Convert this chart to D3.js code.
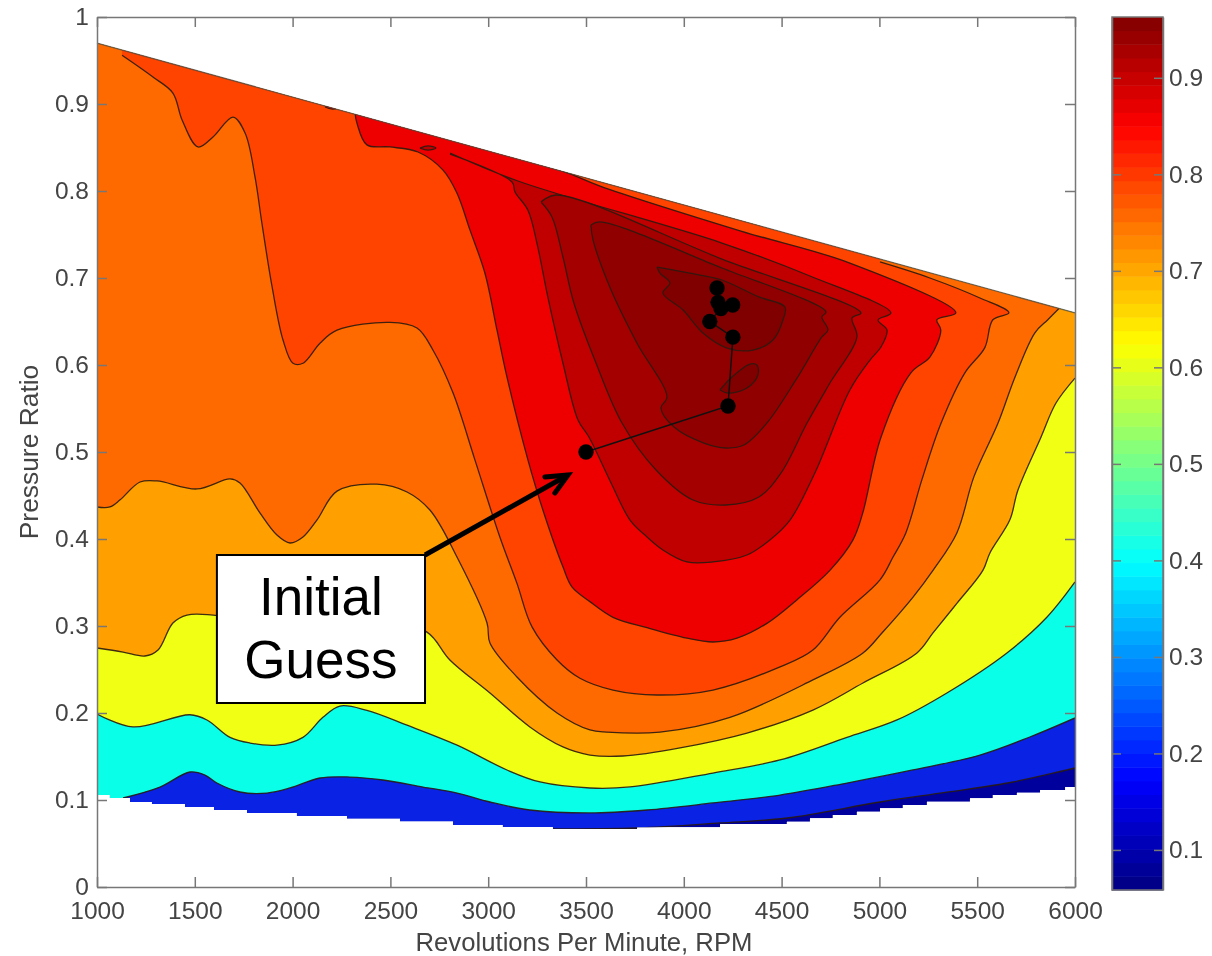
<!DOCTYPE html>
<html>
<head>
<meta charset="utf-8">
<title>Pressure Ratio contour</title>
<script src="https://cdn.jsdelivr.net/npm/d3@7/dist/d3.min.js"></script>
<style>
	html, body { margin: 0; padding: 0; background: #fff; }
	svg { display: block; }
	text { font-family: "Liberation Sans", Arial, sans-serif; }
	.axis text { font-size: 24.5px; fill: #444; }
	.axis path, .axis line { stroke: #777; stroke-width: 1.5px; }
	.soft { filter: blur(0.7px); }
</style>
</head>
<body>
<svg id="chart" width="1212" height="956"></svg>
<script>
// domain of the map: [rpm, pressure ratio]
var topEdge = [[6000, 0.66], [1000, 0.97]];
// the lower edge is a staircase in the source, each entry starts a flat
var bottomEdge = [[1000, 0.1057], [1066, 0.1023], [1169, 0.0977], [1281, 0.0954], [1450, 0.092], [1598, 0.0885],
	[1767, 0.0851], [2022, 0.0816], [2278, 0.0787], [2549, 0.0757], [2820, 0.0713], [3075, 0.069], [3331, 0.0667],
	[3761, 0.0686], [4185, 0.0724], [4527, 0.0751], [4645, 0.079], [4762, 0.0828], [4885, 0.0866], [5003, 0.0904],
	[5120, 0.0943], [5243, 0.098], [5463, 0.102], [5580, 0.1057], [5703, 0.1084], [5821, 0.1115], [5950, 0.1149],
	[6000, 0.1149]];

// contour lines, lowest level first
var contourBlue = [[3331, 0.0667], [3761, 0.0678], [4185, 0.0736], [4527, 0.0793], [5003, 0.0977], [5345, 0.109],
	[5683, 0.1207], [6000, 0.1368]];
var contourCyan = [[1133, 0.1023], [1322, 0.1149], [1475, 0.1322], [1552, 0.1287], [1613, 0.1195], [1731, 0.1092],
	[1869, 0.108], [1987, 0.1138], [2140, 0.1253], [2293, 0.1264], [2462, 0.123], [2667, 0.1149], [2841, 0.108],
	[3009, 0.0977], [3213, 0.0885], [3520, 0.0851], [3812, 0.0885], [4149, 0.0966], [4492, 0.1057], [4834, 0.1195],
	[5171, 0.1345], [5514, 0.1517], [5769, 0.1724], [6000, 0.1943]];
var contourYellow = [[1000, 0.1989], [1184, 0.184], [1475, 0.198], [1562, 0.192], [1680, 0.172], [1782, 0.1655],
	[1920, 0.163], [2053, 0.172], [2155, 0.195], [2242, 0.208], [2380, 0.203], [2585, 0.186], [2841, 0.163],
	[3096, 0.1345], [3265, 0.1207], [3520, 0.1138], [3725, 0.115], [4149, 0.131], [4492, 0.146], [4834, 0.172],
	[5090, 0.192], [5345, 0.223], [5652, 0.269], [5856, 0.31], [6000, 0.3506]];
var contourOrange = [[1000, 0.2747], [1133, 0.27], [1245, 0.2655], [1312, 0.2724], [1388, 0.3034], [1460, 0.3126],
	[1593, 0.3126], [2000, 0.3], [2400, 0.31], [2687, 0.293], [2804, 0.261], [3009, 0.223], [3213, 0.184],
	[3382, 0.161], [3520, 0.1517], [3689, 0.1506], [3981, 0.16], [4323, 0.177], [4660, 0.2034], [4916, 0.2345],
	[5192, 0.269], [5274, 0.292], [5396, 0.326], [5529, 0.364], [5565, 0.384], [5667, 0.422], [5708, 0.456],
	[5826, 0.517], [5902, 0.556], [6000, 0.585]];
var contourDarkOrange = [[1000, 0.4368], [1066, 0.4368], [1118, 0.445], [1220, 0.4655], [1307, 0.4667], [1511, 0.4575],
	[1680, 0.469], [1731, 0.4644], [1833, 0.43], [1920, 0.4046], [1987, 0.3954], [2053, 0.4023], [2125, 0.422],
	[2227, 0.455], [2431, 0.463], [2585, 0.454], [2703, 0.433], [2841, 0.379], [2994, 0.3034], [3009, 0.2805],
	[3147, 0.2414], [3352, 0.2], [3520, 0.1805], [3607, 0.178], [3878, 0.178], [4236, 0.195], [4660, 0.238],
	[4916, 0.269], [5013, 0.292], [5171, 0.333], [5274, 0.364], [5396, 0.407], [5483, 0.4714], [5606, 0.533],
	[5693, 0.586], [5795, 0.637], [5861, 0.652], [5918, 0.665]];
var contourOrangeRed = [[1128, 0.956], [1286, 0.931], [1388, 0.9126], [1435, 0.8816], [1516, 0.8506], [1593, 0.862],
	[1695, 0.885], [1757, 0.8667], [1808, 0.816], [1843, 0.763], [1895, 0.69], [1951, 0.6287], [2002, 0.602],
	[2053, 0.602], [2140, 0.625], [2227, 0.64], [2498, 0.649], [2636, 0.6425], [2718, 0.617], [2820, 0.568],
	[2932, 0.491], [3060, 0.402], [3147, 0.349], [3224, 0.299], [3352, 0.261], [3469, 0.24], [3638, 0.2264],
	[3863, 0.2207], [4149, 0.2264], [4492, 0.253], [4660, 0.2724], [4798, 0.31], [5003, 0.353], [5069, 0.379],
	[5135, 0.407], [5217, 0.468], [5315, 0.533], [5437, 0.591], [5539, 0.62], [5580, 0.652], [5662, 0.66],
	[5514, 0.677], [5258, 0.7], [5003, 0.7184]];
var contourRed = [[2319, 0.8897], [2329, 0.878], [2380, 0.853], [2498, 0.8506], [2641, 0.8448], [2769, 0.824],
	[2840, 0.7977], [2907, 0.755], [2983, 0.7057], [3045, 0.64], [3096, 0.586], [3203, 0.491], [3280, 0.433],
	[3382, 0.368], [3428, 0.345], [3520, 0.328], [3638, 0.31], [3812, 0.298], [4016, 0.286], [4149, 0.2816],
	[4272, 0.286], [4425, 0.303], [4578, 0.33], [4747, 0.364], [4865, 0.399], [4915, 0.43], [5008, 0.517],
	[5161, 0.591], [5258, 0.609], [5314, 0.64], [5294, 0.652], [5391, 0.66], [4849, 0.7172], [4292, 0.754],
	[3572, 0.8057], [3367, 0.824], [2319, 0.8897]];
var contourDark1 = [[2805, 0.8425], [3122, 0.8103], [3137, 0.7989], [3203, 0.778], [3249, 0.7402], [3305, 0.678],
	[3382, 0.6023], [3459, 0.5368], [3515, 0.5172], [3628, 0.4644], [3725, 0.4218], [3812, 0.4023], [3893, 0.3874],
	[4016, 0.3736], [4149, 0.3736], [4323, 0.3816], [4440, 0.3989], [4543, 0.4218], [4670, 0.4759], [4849, 0.5713],
	[4952, 0.6057], [5008, 0.6207], [5039, 0.6402], [4993, 0.6517], [5059, 0.6598], [4645, 0.7023], [4195, 0.7402],
	[3152, 0.8115], [2805, 0.8437]];
var contourDark2 = [[3270, 0.7874], [3326, 0.7701], [3382, 0.7241], [3438, 0.6713], [3551, 0.6023], [3684, 0.5333],
	[3858, 0.4793], [4047, 0.4448], [4215, 0.4391], [4384, 0.4483], [4497, 0.4759], [4630, 0.5333], [4747, 0.5793],
	[4885, 0.6322], [4860, 0.654], [4906, 0.6598], [4195, 0.7218], [3346, 0.7954], [3270, 0.7874]];
var contourDark3 = [[3525, 0.7609], [3536, 0.7437], [3628, 0.6862], [3760, 0.6253], [3914, 0.5632], [3883, 0.5506],
	[3950, 0.5287], [4103, 0.5103], [4215, 0.5046], [4307, 0.508], [4425, 0.5333], [4573, 0.5828], [4706, 0.6322],
	[4737, 0.6402], [4706, 0.6552], [4727, 0.6609], [4195, 0.7115], [3571, 0.7644], [3525, 0.7609]];
var contourDark4 = [[3863, 0.7126], [3878, 0.7057], [3929, 0.6943], [3893, 0.6828], [3996, 0.6632], [4098, 0.6368],
	[4221, 0.6195], [4354, 0.6172], [4456, 0.6287], [4507, 0.6517], [4517, 0.6667], [4384, 0.6782], [4195, 0.6977],
	[4083, 0.7034], [3863, 0.7126]];
var islandDark = [[4185, 0.5713], [4246, 0.5862], [4338, 0.6011], [4374, 0.6], [4379, 0.5885], [4323, 0.5736],
	[4226, 0.5678], [4185, 0.5713]];
var islandTop1 = [[2166, 0.8966], [2205, 0.899], [2243, 0.8966], [2205, 0.8942], [2166, 0.8966]];
var islandTop2 = [[2651, 0.8494], [2692, 0.8518], [2733, 0.8494], [2692, 0.847], [2651, 0.8494]];

// colours of the filled bands, sampled by eye
var bandColors = {
	navy: '#00009c', blue: '#0a22e4', cyan: '#0affe8', yellow: '#f0ff14', orange: '#ffa000',
	darkOrange: '#ff6a00', orangeRed: '#ff4400', red: '#ee0000', dark1: '#c00000', dark2: '#a50000',
	dark3: '#900000', dark4: '#800000'
};

// optimizer iterations
var iterRpm = [3500, 4226, 4251, 4133, 4190, 4250, 4175, 4170];
var iterRatio = [0.5, 0.5529, 0.632, 0.65, 0.665, 0.669, 0.672, 0.6885];

// annotation
var noteLines = ['Initial', 'Guess'];
var noteBox = { rpm0: 1613, rpm1: 2677, ratio0: 0.2115, ratio1: 0.3816 };
var noteArrow = [[2677, 0.3816], [3408, 0.4736]];
var noteHead = [[3290, 0.4713], [3408, 0.4736], [3341, 0.4529]];

var xTicks = [1000, 1500, 2000, 2500, 3000, 3500, 4000, 4500, 5000, 5500, 6000];
var yTicks = [0, 0.1, 0.2, 0.3, 0.4, 0.5, 0.6, 0.7, 0.8, 0.9, 1];
var barTicks = [0.1, 0.2, 0.3, 0.4, 0.5, 0.6, 0.7, 0.8, 0.9];
var barRange = [0.0585, 0.963];
// matlab jet, stops given as fractions of the bar
var jetStops = ['#000080', '#0000ff', '#00ffff', '#ffff00', '#ff0000', '#800000'];
var jetPositions = [0, 0.125, 0.375, 0.625, 0.875, 1];

var margin = { left: 97, top: 17 };
var width = 978, height = 870;

var svg = d3.select('#chart');
var x = d3.scaleLinear().domain([1000, 6000]).range([0, width]);
var y = d3.scaleLinear().domain([0, 1]).range([height, 0]);

var line = d3.line()
	.x(function (d) { return x(d[0]); })
	.y(function (d) { return y(d[1]); });
var stairs = d3.line()
	.x(function (d) { return x(d[0]); })
	.y(function (d) { return y(d[1]); })
	.curve(d3.curveStepAfter);
var smooth = d3.line()
	.x(function (d) { return x(d[0]); })
	.y(function (d) { return y(d[1]); })
	.curve(d3.curveCatmullRom.alpha(0.5));

// straight segments that continue an already started path
function straightTo(points) {
	return points.map(function (p) {
		return 'L' + x(p[0]) + ',' + y(p[1]);
	}).join('');
}

var domainPath = stairs(bottomEdge) + straightTo(topEdge) + 'Z';

var plot = svg.append('g')
	.attr('transform', 'translate(' + margin.left + ',' + margin.top + ')');

svg.append('defs').append('clipPath')
	.attr('id', 'domain-clip')
	.append('path')
	.attr('d', domainPath);

var soft = plot.append('g').attr('class', 'soft');
var map = soft.append('g').attr('clip-path', 'url(#domain-clip)');

// painted bottom up, every band covers everything above its lower contour
var overTop = [[6000, 1.05], [1000, 1.05]];
var bands = [
	{ line: contourBlue, before: [[1000, 0], [3331, 0]], after: overTop, color: bandColors.blue },
	{ line: contourCyan, before: [[1000, 0], [1133, 0]], after: overTop, color: bandColors.cyan },
	{ line: contourYellow, after: overTop, color: bandColors.yellow },
	{ line: contourOrange, after: overTop, color: bandColors.orange },
	{ line: contourDarkOrange, after: [[5918, 1.05], [1000, 1.05]], color: bandColors.darkOrange },
	{ line: contourOrangeRed, after: [[5003, 1.05], [1128, 1.05]], color: bandColors.orangeRed },
	{ line: contourRed, color: bandColors.red },
	{ line: islandTop1, color: bandColors.red },
	{ line: islandTop2, color: bandColors.dark1 },
	{ line: contourDark1, color: bandColors.dark1 },
	{ line: contourDark2, color: bandColors.dark2 },
	{ line: contourDark3, color: bandColors.dark3 },
	{ line: contourDark4, color: bandColors.dark4 },
	{ line: islandDark, color: bandColors.dark4 }
];

map.append('path')
	.attr('d', domainPath)
	.attr('fill', bandColors.navy);

bands.forEach(function (b) {
	var curve = smooth(b.line);
	var d = curve + straightTo(b.after || []) + 'Z';
	if (b.before) {
		// the band starts on the lower edge, left of its contour
		d = line(b.before) + straightTo([b.line[0]]) + curve.replace(/^M[^CL]*/, '') + straightTo(b.after) + 'Z';
	}
	map.append('path').attr('d', d).attr('fill', b.color);
	map.append('path').attr('d', curve)
		.attr('fill', 'none')
		.attr('stroke', '#2a1a10')
		.attr('stroke-opacity', 0.9)
		.attr('stroke-width', 1.3);
});

// dark rim of the map along the top
soft.append('path')
	.attr('d', line(topEdge))
	.attr('fill', 'none')
	.attr('stroke', '#444')
	.attr('stroke-opacity', 0.7)
	.attr('stroke-width', 1.3);

// iterations
var iterPoints = d3.zip(iterRpm, iterRatio);
plot.append('path')
	.attr('d', line(iterPoints))
	.attr('fill', 'none')
	.attr('stroke', '#111')
	.attr('stroke-width', 1.5);
plot.selectAll('circle.iter').data(iterPoints).enter().append('circle')
	.attr('class', 'iter')
	.attr('cx', function (d) { return x(d[0]); })
	.attr('cy', function (d) { return y(d[1]); })
	.attr('r', 7.7)
	.attr('fill', '#000');

// annotation
plot.append('path').attr('d', line(noteArrow))
	.attr('fill', 'none').attr('stroke', '#000').attr('stroke-width', 5);
plot.append('path').attr('d', line(noteHead))
	.attr('fill', 'none').attr('stroke', '#000').attr('stroke-width', 5)
	.attr('stroke-linecap', 'round').attr('stroke-linejoin', 'miter');
plot.append('rect')
	.attr('x', x(noteBox.rpm0))
	.attr('y', y(noteBox.ratio1))
	.attr('width', x(noteBox.rpm1) - x(noteBox.rpm0))
	.attr('height', y(noteBox.ratio0) - y(noteBox.ratio1))
	.attr('fill', '#fff')
	.attr('stroke', '#000')
	.attr('stroke-width', 2);
plot.selectAll('text.note').data(noteLines).enter().append('text')
	.attr('class', 'note')
	.attr('x', (x(noteBox.rpm0) + x(noteBox.rpm1)) / 2)
	.attr('y', function (d, i) { return y(noteBox.ratio1) + 60 + i * 63; })
	.attr('text-anchor', 'middle')
	.attr('font-size', 53)
	.attr('fill', '#000')
	.text(function (d) { return d; });

// axes, ticks point inward on all four sides like matlab does
var fmt = function (d) { return String(d); };
var frame = plot.append('g').attr('class', 'soft');
frame.append('g').attr('class', 'axis')
	.attr('transform', 'translate(0,' + height + ')')
	.call(d3.axisBottom(x).tickValues(xTicks).tickFormat(fmt).tickSizeInner(-10).tickSizeOuter(0).tickPadding(14.5));
frame.append('g').attr('class', 'axis')
	.call(d3.axisTop(x).tickValues(xTicks).tickFormat('').tickSizeInner(-10).tickSizeOuter(0));
frame.append('g').attr('class', 'axis')
	.call(d3.axisLeft(y).tickValues(yTicks).tickFormat(fmt).tickSizeInner(-10).tickSizeOuter(0).tickPadding(8));
frame.append('g').attr('class', 'axis')
	.attr('transform', 'translate(' + width + ',0)')
	.call(d3.axisRight(y).tickValues(yTicks).tickFormat('').tickSizeInner(-10).tickSizeOuter(0));

var titles = svg.append('g').attr('class', 'soft');
titles.append('text')
	.attr('x', margin.left + width / 2 - 2)
	.attr('y', 951)
	.attr('text-anchor', 'middle')
	.attr('font-size', 25.7)
	.attr('fill', '#444')
	.text('Revolutions Per Minute, RPM');
titles.append('text')
	.attr('transform', 'translate(38,452) rotate(-90)')
	.attr('text-anchor', 'middle')
	.attr('font-size', 26.4)
	.attr('fill', '#444')
	.text('Pressure Ratio');

// colorbar
var barLeft = 1112, barWidth = 51, barTop = 17, barHeight = 873;
var barY = d3.scaleLinear().domain(barRange).range([barHeight, 0]);
var jet = d3.scaleLinear()
	.domain(jetPositions.map(function (p) { return barRange[0] + p * (barRange[1] - barRange[0]); }))
	.range(jetStops);
var stepValue = (barRange[1] - barRange[0]) / 64;
var barSteps = d3.range(64).map(function (i) { return barRange[0] + stepValue * i; });
var bar = svg.append('g')
	.attr('class', 'soft')
	.attr('transform', 'translate(' + barLeft + ',' + barTop + ')');
bar.selectAll('rect').data(barSteps).enter().append('rect')
	.attr('x', 0)
	.attr('y', function (d) { return barY(d + stepValue); })
	.attr('width', barWidth)
	.attr('height', barHeight / 64 + 0.5)
	.attr('fill', function (d) { return jet(d + stepValue / 2); });
bar.append('g').attr('class', 'axis')
	.attr('transform', 'translate(' + barWidth + ',0)')
	.call(d3.axisRight(barY).tickValues(barTicks).tickFormat(fmt).tickSizeInner(-9).tickSizeOuter(0).tickPadding(6));
bar.append('g').attr('class', 'axis')
	.call(d3.axisLeft(barY).tickValues(barTicks).tickFormat('').tickSizeInner(-9).tickSizeOuter(0));
bar.append('rect')
	.attr('width', barWidth)
	.attr('height', barHeight)
	.attr('fill', 'none')
	.attr('stroke', '#777')
	.attr('stroke-width', 1.5);
</script>
</body>
</html>
